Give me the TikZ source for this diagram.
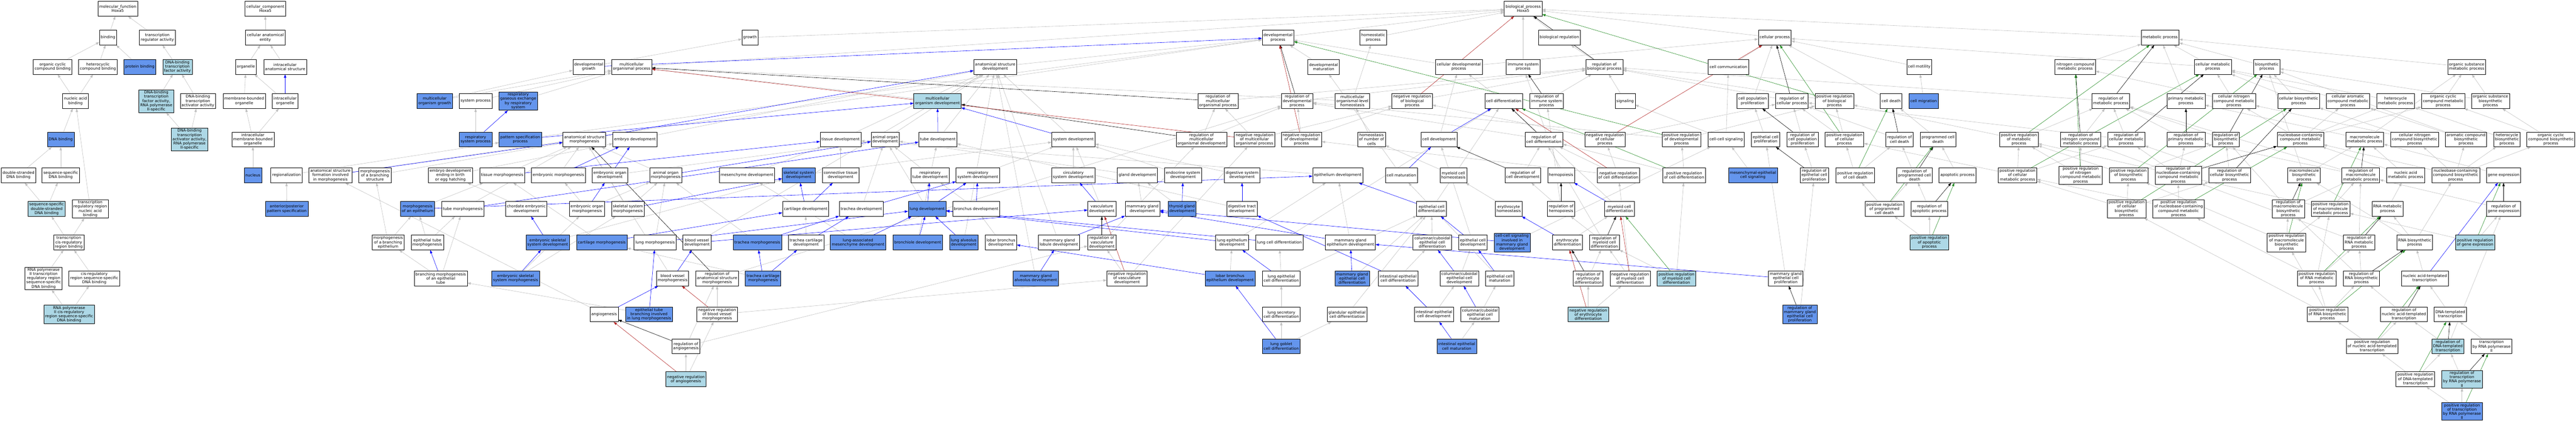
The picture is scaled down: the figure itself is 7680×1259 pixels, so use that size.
\documentclass[tikz,border=0pt]{standalone}
\usepackage{fontspec}
\setmainfont{DejaVu Sans}
\usepackage{tikz}
\usetikzlibrary{arrows.meta,backgrounds}
\definecolor{ancblue}{HTML}{ADD8E6}
\definecolor{hitblue}{HTML}{6495ED}
\definecolor{edgegray}{HTML}{C0C0C0}
\definecolor{negred}{HTML}{B22222}
\definecolor{posgreen}{HTML}{228B22}
\tikzset{>/.tip={Triangle[length=10pt,width=7pt]},
  gobox/.style={draw, line width=0.9pt, fill=white, align=center, inner xsep=4pt, inner ysep=3pt,
    minimum height=44pt, font=\fontsize{11.5}{12.5}\selectfont},
  goanc/.style={gobox, fill=ancblue},
  gohit/.style={gobox, fill=hitblue},
  isa/.style={->, draw=edgegray, line width=0.9pt},
  partof/.style={->, draw=blue, line width=0.9pt},
  reg/.style={->, draw=black, line width=0.9pt},
  negreg/.style={->, draw=negred, line width=0.9pt},
  posreg/.style={->, draw=posgreen, line width=0.9pt}}

\begin{document}
\begin{tikzpicture}[x=1pt,y=1pt]
\useasboundingbox (0,0) rectangle (7680,1259);
\begin{pgfonlayer}{background}
\fill[white] (0,0) rectangle (7680,1259);
\end{pgfonlayer}
\node[gobox] (mf) at (351,1233) {molecular\_function\\Hoxa5};
\node[gobox] (binding) at (322,1147) {binding};
\node[gobox] (tra) at (469,1147) {transcription\\regulator activity};
\node[gobox] (occb) at (157,1060) {organic cyclic\\compound binding};
\node[gobox] (hcb) at (292,1060) {heterocyclic\\compound binding};
\node[gohit] (protb) at (417,1060) {protein binding};
\node[goanc] (dbtfa) at (529,1060) {DNA-binding\\transcription\\factor activity};
\node[gobox] (nab) at (225,958) {nucleic acid\\binding};
\node[goanc] (dbtfa2) at (466,958) {DNA-binding\\transcription\\factor activity,\\RNA polymerase\\II-specific};
\node[gobox] (dbtaa) at (590,958) {DNA-binding\\transcription\\activator activity};
\node[gohit] (dnab) at (181,844) {DNA binding};
\node[goanc] (dbtaa2) at (565,844) {DNA-binding\\transcription\\activator activity,\\RNA polymerase\\II-specific};
\node[gobox] (dsdb) at (55,737) {double-stranded\\DNA binding};
\node[gobox] (ssdb) at (181,737) {sequence-specific\\DNA binding};
\node[goanc] (ssdsdb) at (139,637) {sequence-specific\\double-stranded\\DNA binding};
\node[gobox] (trrnab) at (269,637) {transcription\\regulatory region\\nucleic acid\\binding};
\node[gobox] (tcrrb) at (205,537) {transcription\\cis-regulatory\\region binding};
\node[gobox] (rp2trr) at (130,430) {RNA polymerase\\II transcription\\regulatory region\\sequence-specific\\DNA binding};
\node[gobox] (crrssdb) at (281,430) {cis-regulatory\\region sequence-specific\\DNA binding};
\node[goanc] (rp2crr) at (206,323) {RNA polymerase\\II cis-regulatory\\region sequence-specific\\DNA binding};
\node[gobox] (cc) at (791,1233) {cellular\_component\\Hoxa5};
\node[gobox] (cae) at (791,1147) {cellular anatomical\\entity};
\node[gobox] (organelle) at (733,1060) {organelle};
\node[gobox] (ias) at (850,1060) {intracellular\\anatomical structure};
\node[gobox] (mbo) at (728,958) {membrane-bounded\\organelle};
\node[gobox] (io) at (850,958) {intracellular\\organelle};
\node[gobox] (imbo) at (754,844) {intracellular\\membrane-bounded\\organelle};
\node[gohit] (nucleus) at (754,737) {nucleus};
\node[gobox] (regionalization) at (854,737) {regionalization};
\node[gohit] (apps) at (855,637) {anterior/posterior\\pattern specification};
\node[gobox] (asfim) at (985,737) {anatomical structure\\formation involved\\in morphogenesis};
\node[gobox] (mobs) at (1118,737) {morphogenesis\\of a branching\\structure};
\node[gobox] (ebeh) at (1343,737) {embryo development\\ending in birth\\or egg hatching};
\node[gohit] (mog) at (1296,958) {multicellular\\organism growth};
\node[gohit] (moe) at (1245,637) {morphogenesis\\of an epithelium};
\node[gobox] (mobe) at (1157,537) {morphogenesis\\of a branching\\epithelium};
\node[gobox] (etm) at (1274,537) {epithelial tube\\morphogenesis};
\node[gobox] (branching) at (1314,430) {branching morphogenesis\\of an epithelial\\tube};
\node[gobox] (devgrowth) at (1755,1060) {developmental\\growth};
\node[gobox] (mop) at (1883,1060) {multicellular\\organismal process};
\node[gobox] (sysproc) at (1418,958) {system process};
\node[gohit] (rgers) at (1545,958) {respiratory\\gaseous exchange\\by respiratory\\system};
\node[gohit] (rsp) at (1418,844) {respiratory\\system process};
\node[gohit] (psp) at (1551,844) {pattern specification\\process};
\node[gobox] (asm) at (1742,844) {anatomical structure\\morphogenesis};
\node[gobox] (embdev) at (1893,844) {embryo development};
\node[gobox] (tissuemorph) at (1497,737) {tissue morphogenesis};
\node[gobox] (embmorph) at (1665,737) {embryonic morphogenesis};
\node[gobox] (eod) at (1818,737) {embryonic organ\\development};
\node[gobox] (tubemorph) at (1380,637) {tube morphogenesis};
\node[gobox] (ced) at (1569,637) {chordate embryonic\\development};
\node[gobox] (eom) at (1750,637) {embryonic organ\\morphogenesis};
\node[gobox] (ssm) at (1872,637) {skeletal system\\morphogenesis};
\node[gohit] (esd) at (1633,537) {embryonic skeletal\\system development};
\node[gohit] (cartmorph) at (1794,537) {cartilage morphogenesis};
\node[gobox] (lungmorph) at (1953,537) {lung morphogenesis};
\node[gohit] (esm) at (1537,430) {embryonic skeletal\\system morphogenesis};
\node[gobox] (angiogenesis) at (1801,323) {angiogenesis};
\node[gohit] (etbilm) at (1935,323) {epithelial tube\\branching involved\\in lung morphogenesis};
\node[gobox] (growth) at (2236,1147) {growth};
\node[gobox] (tissuedev) at (2506,844) {tissue development};
\node[gobox] (aom) at (1985,737) {animal organ\\morphogenesis};
\node[gobox] (mesdev) at (2227,737) {mesenchyme development};
\node[gohit] (skeldev) at (2381,737) {skeletal system\\development};
\node[gobox] (ctd) at (2506,737) {connective tissue\\development};
\node[gobox] (cartdev) at (2402,637) {cartilage development};
\node[gobox] (tracheadev) at (2568,637) {trachea development};
\node[gobox] (bvd) at (2078,537) {blood vessel\\development};
\node[gohit] (trachmorph) at (2258,537) {trachea morphogenesis};
\node[gobox] (tcd) at (2403,537) {trachea cartilage\\development};
\node[gohit] (lamd) at (2558,537) {lung-associated\\mesenchyme development};
\node[gobox] (bvm) at (2005,430) {blood vessel\\morphogenesis};
\node[gobox] (rasm) at (2138,430) {regulation of\\anatomical structure\\morphogenesis};
\node[gohit] (tcm) at (2275,430) {trachea cartilage\\morphogenesis};
\node[gobox] (nrbvm) at (2138,323) {negative regulation\\of blood vessel\\morphogenesis};
\node[gobox] (rang) at (2045,228) {regulation of\\angiogenesis};
\node[goanc] (nrang) at (2045,130) {negative regulation\\of angiogenesis};
\node[gobox] (asd) at (2967,1060) {anatomical structure\\development};
\node[goanc] (mod) at (2795,958) {multicellular\\organism development};
\node[gobox] (aod) at (2639,844) {animal organ\\development};
\node[gobox] (tubedev) at (2796,844) {tube development};
\node[gobox] (sysdev) at (3200,844) {system development};
\node[gobox] (rtd) at (2773,737) {respiratory\\tube development};
\node[gobox] (rsd) at (2915,737) {respiratory\\system development};
\node[gobox] (circ) at (3200,737) {circulatory\\system development};
\node[gohit] (lungdev) at (2764,637) {lung development};
\node[gobox] (bronchdev) at (2910,637) {bronchus development};
\node[gohit] (bronchiole) at (2736,537) {bronchiole development};
\node[gohit] (lad) at (2873,537) {lung alveolus\\development};
\node[gobox] (lbd) at (2984,537) {lobar bronchus\\development};
\node[gobox] (mgld) at (3157,537) {mammary gland\\lobule development};
\node[gohit] (mgad) at (3088,430) {mammary gland\\alveolus development};
\node[gobox] (devproc) at (3810,1147) {developmental\\process};
\node[gobox] (rmop) at (3631,958) {regulation of\\multicellular\\organismal process};
\node[gobox] (rdp) at (3867,958) {regulation of\\developmental\\process};
\node[gobox] (rmod) at (3582,844) {regulation of\\multicellular\\organismal development};
\node[gobox] (nrmop) at (3740,844) {negative regulation\\of multicellular\\organismal process};
\node[gobox] (nrdp) at (3880,844) {negative regulation\\of developmental\\process};
\node[gobox] (glanddev) at (3391,737) {gland development};
\node[gobox] (endodev) at (3527,737) {endocrine system\\development};
\node[gobox] (digsysdev) at (3703,737) {digestive system\\development};
\node[gobox] (vascdev) at (3285,637) {vasculature\\development};
\node[gobox] (mgd) at (3406,637) {mammary gland\\development};
\node[gohit] (tgd) at (3524,637) {thyroid gland\\development};
\node[gobox] (dtd) at (3703,637) {digestive tract\\development};
\node[gobox] (rvd) at (3285,537) {regulation of\\vasculature\\development};
\node[gobox] (led) at (3673,537) {lung epithelium\\development};
\node[gobox] (lcd) at (3814,537) {lung cell differentiation};
\node[gobox] (nrvd) at (3360,430) {negative regulation\\of vasculature\\development};
\node[gohit] (lbed) at (3667,430) {lobar bronchus\\epithelium development};
\node[gobox] (lecd) at (3820,430) {lung epithelial\\cell differentiation};
\node[gobox] (lscd) at (3820,323) {lung secretory\\cell differentiation};
\node[gohit] (lgcd) at (3820,228) {lung goblet\\cell differentiation};
\node[gobox] (homeoproc) at (4094,1147) {homeostatic\\process};
\node[gobox] (devmat) at (3946,1060) {developmental\\maturation};
\node[gobox] (cdp) at (4349,1060) {cellular developmental\\process};
\node[gobox] (molh) at (4032,958) {multicellular\\organismal-level\\homeostasis};
\node[gobox] (nrbp) at (4210,958) {negative regulation\\of biological\\process};
\node[gobox] (celldiff) at (4483,958) {cell differentiation};
\node[gobox] (homnc) at (4089,844) {homeostasis\\of number of\\cells};
\node[gobox] (celldev) at (4290,844) {cell development};
\node[gobox] (epidev) at (3988,737) {epithelium development};
\node[gobox] (cellmat) at (4178,737) {cell maturation};
\node[gobox] (mch) at (4333,737) {myeloid cell\\homeostasis};
\node[gobox] (ecd) at (4268,637) {epithelial cell\\differentiation};
\node[gobox] (eryh) at (4498,637) {erythrocyte\\homeostasis};
\node[gobox] (mged) at (4026,537) {mammary gland\\epithelium development};
\node[gobox] (cccd) at (4270,537) {columnar/cuboidal\\epithelial cell\\differentiation};
\node[gobox] (ecdev) at (4391,537) {epithelial cell\\development};
\node[gohit] (ccsimgd) at (4508,537) {cell-cell signaling\\involved in\\mammary gland\\development};
\node[gohit] (mgecd) at (4031,430) {mammary gland\\epithelial cell\\differentiation};
\node[gobox] (iecd) at (4168,430) {intestinal epithelial\\cell differentiation};
\node[gobox] (ccecdev) at (4351,430) {columnar/cuboidal\\epithelial cell\\development};
\node[gobox] (ecm) at (4471,430) {epithelial cell\\maturation};
\node[gobox] (gecd) at (4016,323) {glandular epithelial\\cell differentiation};
\node[gobox] (iecdev) at (4275,323) {intestinal epithelial\\cell development};
\node[gobox] (ccecm) at (4412,323) {columnar/cuboidal\\epithelial cell\\maturation};
\node[gohit] (iecm) at (4343,228) {intestinal epithelial\\cell maturation};
\node[gobox] (bp) at (4541,1233) {biological\_process\\Hoxa5};
\node[gobox] (bioreg) at (4649,1147) {biological regulation};
\node[gobox] (isp) at (4541,1060) {immune system\\process};
\node[gobox] (rbp) at (4783,1060) {regulation of\\biological process};
\node[gobox] (cellcomm) at (5153,1060) {cell communication};
\node[gobox] (risp) at (4611,958) {regulation of\\immune system\\process};
\node[gobox] (signaling) at (4845,958) {signaling};
\node[gobox] (rcd) at (4603,844) {regulation of\\cell differentiation};
\node[gobox] (nrcp) at (4785,844) {negative regulation\\of cellular\\process};
\node[gobox] (prdp) at (5013,844) {positive regulation\\of developmental\\process};
\node[gobox] (ccsig) at (5146,844) {cell-cell signaling};
\node[gobox] (rcdev) at (4540,737) {regulation of\\cell development};
\node[gobox] (hemopoiesis) at (4654,737) {hemopoiesis};
\node[gobox] (nrcd) at (4825,737) {negative regulation\\of cell differentiation};
\node[gobox] (prcd) at (5021,737) {positive regulation\\of cell differentiation};
\node[gobox] (rhemo) at (4654,637) {regulation of\\hemopoiesis};
\node[gobox] (mcd) at (4828,637) {myeloid cell\\differentiation};
\node[gobox] (erydiff) at (4673,537) {erythrocyte\\differentiation};
\node[gobox] (rmcd) at (4783,537) {regulation of\\myeloid cell\\differentiation};
\node[gobox] (redd) at (4735,430) {regulation of\\erythrocyte\\differentiation};
\node[gobox] (nrmcd) at (4860,430) {negative regulation\\of myeloid cell\\differentiation};
\node[goanc] (prmcd) at (4998,430) {positive regulation\\of myeloid cell\\differentiation};
\node[goanc] (nred) at (4735,323) {negative regulation\\of erythrocyte\\differentiation};
\node[gobox] (cellproc) at (5291,1147) {cellular process};
\node[gobox] (cellmot) at (5722,1060) {cell motility};
\node[gobox] (cpp) at (5225,958) {cell population\\proliferation};
\node[gobox] (rcp) at (5342,958) {regulation of\\cellular process};
\node[gobox] (prbp) at (5469,958) {positive regulation\\of biological\\process};
\node[gobox] (celldeath) at (5638,958) {cell death};
\node[gohit] (cellmig) at (5735,958) {cell migration};
\node[gobox] (ecp) at (5264,844) {epithelial cell\\proliferation};
\node[gobox] (rcpp) at (5374,844) {regulation of\\cell population\\proliferation};
\node[gobox] (prcp) at (5499,844) {positive regulation\\of cellular\\process};
\node[gobox] (rcdeath) at (5663,844) {regulation of\\cell death};
\node[gobox] (pcd) at (5778,844) {programmed cell\\death};
\node[gohit] (mecs) at (5226,737) {mesenchymal-epithelial\\cell signaling};
\node[gobox] (recp) at (5409,737) {regulation of\\epithelial cell\\proliferation};
\node[gobox] (prcdeath) at (5531,737) {positive regulation\\of cell death};
\node[gobox] (rpcd) at (5708,737) {regulation of\\programmed cell\\death};
\node[gobox] (aproc) at (5836,737) {apoptotic process};
\node[gobox] (prpcd) at (5618,637) {positive regulation\\of programmed\\cell death};
\node[gobox] (rap) at (5752,637) {regulation of\\apoptotic process};
\node[goanc] (prap) at (5752,537) {positive regulation\\of apoptotic\\process};
\node[gobox] (mgecp) at (5324,430) {mammary gland\\epithelial cell\\proliferation};
\node[gohit] (rmgecp) at (5366,323) {regulation of\\mammary gland\\epithelial cell\\proliferation};
\node[gobox] (metproc) at (6440,1147) {metabolic process};
\node[gobox] (ncmp) at (6187,1060) {nitrogen compound\\metabolic process};
\node[gobox] (rmp) at (6293,958) {regulation of\\metabolic process};
\node[gobox] (prmp) at (6019,844) {positive regulation\\of metabolic\\process};
\node[gobox] (rncmp) at (6203,844) {regulation of\\nitrogen compound\\metabolic process};
\node[gobox] (rcmp) at (6339,844) {regulation of\\cellular metabolic\\process};
\node[gobox] (prcmp) at (6015,737) {positive regulation\\of cellular\\metabolic process};
\node[gobox] (prncmp) at (6203,737) {positive regulation\\of nitrogen\\compound metabolic\\process};
\node[gobox] (prbsp) at (6346,737) {positive regulation\\of biosynthetic\\process};
\node[gobox] (prcbp) at (6340,637) {positive regulation\\of cellular\\biosynthetic\\process};
\node[gobox] (cmp) at (6597,1060) {cellular metabolic\\process};
\node[gobox] (bsp) at (6758,1060) {biosynthetic\\process};
\node[gobox] (pmp) at (6517,958) {primary metabolic\\process};
\node[gobox] (cncmp) at (6660,958) {cellular nitrogen\\compound metabolic\\process};
\node[gobox] (cbp) at (6853,958) {cellular biosynthetic\\process};
\node[gobox] (cacmp) at (7000,958) {cellular aromatic\\compound metabolic\\process};
\node[gobox] (rpmp) at (6517,844) {regulation of\\primary metabolic\\process};
\node[gobox] (rbsp) at (6636,844) {regulation of\\biosynthetic\\process};
\node[gobox] (nbcmp) at (6858,844) {nucleobase-containing\\compound metabolic\\process};
\node[gobox] (mmp) at (7050,844) {macromolecule\\metabolic process};
\node[gobox] (rnbcmp) at (6494,737) {regulation of\\nucleobase-containing\\compound metabolic\\process};
\node[gobox] (rcbp) at (6647,737) {regulation of\\cellular biosynthetic\\process};
\node[gobox] (mbp) at (6869,737) {macromolecule\\biosynthetic\\process};
\node[gobox] (rmmp) at (7038,737) {regulation of\\macromolecule\\metabolic process};
\node[gobox] (prnbcmp) at (6495,637) {positive regulation\\of nucleobase-containing\\compound metabolic\\process};
\node[gobox] (rmbp) at (6822,637) {regulation of\\macromolecule\\biosynthetic\\process};
\node[gobox] (prmmp) at (6948,637) {positive regulation\\of macromolecule\\metabolic process};
\node[gobox] (prmbp) at (6817,537) {positive regulation\\of macromolecule\\biosynthetic\\process};
\node[gobox] (rrmp) at (7033,537) {regulation of\\RNA metabolic\\process};
\node[gobox] (prrmp) at (6907,430) {positive regulation\\of RNA metabolic\\process};
\node[gobox] (rrbp) at (7040,430) {regulation of\\RNA biosynthetic\\process};
\node[gobox] (prrbp) at (6939,323) {positive regulation\\of RNA biosynthetic\\process};
\node[gobox] (prnatt) at (7072,228) {positive regulation\\of nucleic acid-templated\\transcription};
\node[gobox] (osmp) at (7354,1060) {organic substance\\metabolic process};
\node[gobox] (hmp) at (7142,958) {heterocycle\\metabolic process};
\node[gobox] (occmp) at (7284,958) {organic cyclic\\compound metabolic\\process};
\node[gobox] (osbp) at (7425,958) {organic substance\\biosynthetic\\process};
\node[gobox] (cncbp) at (7199,844) {cellular nitrogen\\compound biosynthetic\\process};
\node[gobox] (acbp) at (7352,844) {aromatic compound\\biosynthetic\\process};
\node[gobox] (hbp) at (7474,844) {heterocycle\\biosynthetic\\process};
\node[gobox] (occbp) at (7605,844) {organic cyclic\\compound biosynthetic\\process};
\node[gobox] (namp) at (7172,737) {nucleic acid\\metabolic process};
\node[gobox] (nbcbp) at (7321,737) {nucleobase-containing\\compound biosynthetic\\process};
\node[gobox] (geneexp) at (7464,737) {gene expression};
\node[gobox] (rnamp) at (7118,637) {RNA metabolic\\process};
\node[gobox] (rge) at (7464,637) {regulation of\\gene expression};
\node[gobox] (rnabp) at (7199,537) {RNA biosynthetic\\process};
\node[goanc] (prge) at (7379,537) {positive regulation\\of gene expression};
\node[gobox] (natt) at (7229,430) {nucleic acid-templated\\transcription};
\node[gobox] (rnatt) at (7167,323) {regulation of\\nucleic acid-templated\\transcription};
\node[gobox] (dtt) at (7305,323) {DNA-templated\\transcription};
\node[goanc] (rdtt) at (7298,228) {regulation of\\DNA-templated\\transcription};
\node[gobox] (trp2) at (7428,228) {transcription\\by RNA polymerase\\II};
\node[gobox] (prdtt) at (7201,130) {positive regulation\\of DNA-templated\\transcription};
\node[goanc] (rtrp2) at (7340,130) {regulation of\\transcription\\by RNA polymerase\\II};
\node[gohit] (prtrp2) at (7340,34) {positive regulation\\of transcription\\by RNA polymerase\\II};
\begin{pgfonlayer}{background}
\foreach \c/\p in {binding/mf, tra/mf, occb/binding, hcb/binding, protb/binding, dbtfa/tra, nab/occb, nab/hcb,
  dbtfa2/dbtfa, dbtaa/dbtfa, dnab/nab, dbtaa2/dbtfa2, dbtaa2/dbtaa, dsdb/dnab, ssdb/dnab, ssdsdb/dsdb,
  ssdsdb/ssdb, trrnab/nab, tcrrb/ssdsdb, tcrrb/trrnab, rp2trr/tcrrb, crrssdb/tcrrb, rp2crr/rp2trr, rp2crr/crrssdb,
  cae/cc, organelle/cae, ias/cae, mbo/organelle, io/organelle, imbo/mbo, imbo/io, nucleus/imbo,
  bioreg/bp, isp/bp, cellproc/bp, devproc/bp, homeoproc/bp, growth/bp, mop/bp, metproc/bp, rbp/bioreg,
  signaling/rbp, nrbp/rbp, prbp/rbp, cellcomm/cellproc, cpp/cellproc, celldeath/cellproc, cellmot/cellproc,
  cdp/cellproc, cmp/cellproc, rcp/rbp, nrcp/rcp, nrcp/nrbp, prcp/rcp, prcp/prbp,
  cellmig/cellmot, ecp/cpp, rcpp/rcp, recp/rcpp, mgecp/ecp, rmgecp/recp, ccsig/cellcomm, ccsig/signaling,
  mecs/ccsig, ccsimgd/ccsig, pcd/celldeath, rcdeath/rcp, prcdeath/rcdeath, prcdeath/prcp, rpcd/rcdeath,
  prpcd/prcdeath, prpcd/rpcd, aproc/pcd, rap/rpcd, prap/rap, prap/prpcd,
  asd/devproc, mod/asd, mod/mop, tubedev/asd, sysdev/asd, aod/asd, tissuedev/asd, embdev/asd, devgrowth/growth,
  mog/devgrowth, mog/mop, sysproc/mop, rsp/sysproc, rgers/mop, regionalization/psp, apps/regionalization,
  psp/devproc, embmorph/asm, tissuemorph/asm, ebeh/embdev, eod/aod, ced/ebeh, eom/embmorph, eom/aom,
  ssm/asm, ssm/aom, tubemorph/asm, moe/tissuemorph, mobs/asm, mobe/moe, mobe/mobs, etm/moe, etm/tubemorph,
  branching/mobe, branching/tubemorph, asfim/devproc, angiogenesis/asfim, etbilm/branching, bvd/asd, bvm/asm,
  rasm/rdp, nrbvm/rasm, nrbvm/nrvd, rang/rasm, rang/rvd, nrang/rang, nrang/nrbvm, esd/skeldev, esm/eom,
  esm/ssm, aom/asm, ctd/tissuedev, skeldev/sysdev, tcd/cartdev, tcm/cartmorph, trachmorph/aom,
  tracheadev/aod, lamd/mesdev, lungmorph/aom, lungdev/aod, rtd/tubedev, rtd/aod, rsd/sysdev, bronchdev/rtd,
  bronchiole/rtd, lad/asd, lbd/bronchdev, mgld/asd, mgad/asd, cartmorph/tissuemorph, mesdev/tissuedev,
  circ/sysdev, vascdev/sysdev, rvd/rmod, nrvd/rvd, nrvd/nrmop, glanddev/aod, mgd/glanddev, tgd/glanddev,
  endodev/sysdev, digsysdev/sysdev, dtd/tubedev, epidev/tissuedev, led/epidev, lcd/celldiff, lbed/led,
  lecd/lcd, lecd/ecd, lscd/lecd, lgcd/lscd, lgcd/gecd, mged/epidev, mgecd/ecd, gecd/ecd, iecd/cccd,
  iecdev/ccecdev, iecm/ccecm, ccecm/ecm, ccecdev/ecdev, ecm/cellmat, cccd/ecd, ecdev/celldev, ecd/celldiff,
  cellmat/devmat, celldev/cdp, celldiff/cdp, cdp/devproc, devmat/devproc, molh/homeoproc, molh/mop,
  homnc/molh, mch/homnc, eryh/mch, erydiff/mcd, mcd/celldiff, hemopoiesis/isp, rhemo/rcdev, rhemo/risp,
  rmcd/rhemo, rmcd/rcd, redd/rmcd, nrmcd/rmcd, nrmcd/nrcd, prmcd/rmcd, prmcd/prcd, nred/redd, nred/nrmcd,
  rcdev/rcd, rcd/rdp, nrcd/rcd, nrcd/nrcp, nrcd/nrdp, prcd/rcd, prcd/prdp, prdp/rdp, prdp/prbp, nrdp/rdp,
  nrdp/nrbp, rdp/rbp, rmop/rbp, rmod/rmop, rmod/rdp, nrmop/rmop, nrmop/nrbp, risp/rbp,
  ncmp/metproc, cmp/metproc, pmp/metproc, osmp/metproc, bsp/metproc, rmp/rbp, prmp/rmp, prmp/prbp,
  rncmp/rmp, rcmp/rmp, rcmp/rcp, prcmp/prmp, prcmp/rcmp, prcmp/prcp, prncmp/rncmp, prncmp/prmp,
  prbsp/rbsp, prbsp/prmp, prcbp/prbsp, prcbp/prcmp, prcbp/rcbp, cbp/bsp, cbp/cmp, cncmp/cmp, cncmp/ncmp,
  rpmp/rmp, rbsp/rmp, nbcmp/cacmp, nbcmp/hmp, nbcmp/occmp, nbcmp/cncmp, mmp/pmp, mmp/osmp,
  rnbcmp/rpmp, rnbcmp/rncmp, rnbcmp/rcmp, rcbp/rbsp, rcbp/rcmp, mbp/mmp, mbp/bsp, rmmp/rmp, rmmp/rpmp,
  prnbcmp/rnbcmp, prnbcmp/prcmp, rmbp/rmmp, rmbp/rbsp, prmmp/rmmp, prmmp/prmp, prmbp/rmbp, prmbp/prmmp,
  prmbp/prbsp, rrmp/rmmp, rrmp/rnbcmp, rrbp/rrmp, rrbp/rmbp, prrmp/rrmp, prrmp/prmmp, prrmp/prnbcmp,
  prrbp/prrmp, prrbp/rrbp, prrbp/prmbp, prrbp/prcbp, prnatt/prrbp, prnatt/rnatt, rnatt/rrbp, natt/rnabp,
  dtt/natt, rnabp/rnamp, rnabp/nbcbp, rnabp/mbp, rnamp/namp, namp/nbcmp, namp/mmp, nbcbp/cncbp,
  nbcbp/acbp, nbcbp/hbp, nbcbp/occbp, nbcbp/nbcmp, geneexp/mmp, rge/rmmp, prge/rge, prge/prmmp,
  rdtt/rnatt, rdtt/rge, trp2/dtt, prdtt/rdtt, prdtt/prnatt, rtrp2/rdtt, prtrp2/rtrp2, prtrp2/prdtt,
  cncbp/cbp, cncbp/cncmp, acbp/bsp, acbp/cacmp, hbp/hmp, occbp/occmp, occbp/osbp, osbp/osmp, osbp/bsp,
  occmp/osmp, cacmp/cmp, hmp/cmp}
  \draw[isa] (\c) -- (\p);
\foreach \c/\p in {io/ias, rsp/rgers, asm/asd, asfim/asm, embmorph/embdev, tissuemorph/tissuedev, eod/embdev,
  eom/eod, ssm/skeldev, tubemorph/tubedev, moe/epidev, branching/etm, angiogenesis/bvm, etbilm/lungmorph,
  bvd/vascdev, bvm/bvd, cartdev/ctd, cartdev/skeldev, cartmorph/cartdev, tcd/tracheadev, tcm/tcd,
  tcm/trachmorph, trachmorph/tracheadev, tracheadev/rsd, lamd/lungdev, lungmorph/lungdev, lungdev/rtd,
  lungdev/rsd, bronchdev/rsd, bronchiole/lungdev, lad/lungdev, lbed/lbd, mgld/mgd, mgad/mgld, led/lungdev,
  lcd/lungdev, tubedev/mod, sysdev/mod, aom/aod, esd/ced, esm/esd, vascdev/circ, tgd/endodev,
  dtd/digsysdev, iecd/dtd, lecd/led, lgcd/lbed, mged/mgd, ccsimgd/mgd, mgecd/mged, iecdev/iecd,
  iecm/iecdev, ccecm/ccecdev, ccecdev/cccd, ecm/ecdev, ecdev/ecd, ecd/epidev, cellmat/celldev,
  celldev/celldiff, erydiff/eryh, mcd/hemopoiesis, natt/geneexp, devgrowth/devproc, psp/mod, mgecp/mged}
  \draw[partof] (\c) -- (\p);
\foreach \c/\p in {rbp/bp, rcp/cellproc, rcpp/cpp, recp/ecp, rmgecp/mgecp, rcdeath/celldeath, rpcd/pcd,
  rap/aproc, rasm/asm, rang/angiogenesis, rvd/vascdev, rdp/devproc, rmop/mop, rmod/mod, risp/isp,
  rhemo/hemopoiesis, rmcd/mcd, redd/erydiff, rcdev/celldev, rcd/celldiff, rmp/metproc, rncmp/ncmp,
  rcmp/cmp, rpmp/pmp, rbsp/bsp, rnbcmp/nbcmp, rcbp/cbp, rmmp/mmp, rmbp/mbp, rrmp/rnamp, rrbp/rnabp,
  rnatt/natt, rge/geneexp, rdtt/dtt, rtrp2/trp2}
  \draw[reg] (\c) -- (\p);
\foreach \c/\p in {nrbp/bp, nrcp/cellproc, nrdp/devproc, nrmop/mop, nrbvm/bvm, nrang/angiogenesis,
  nrvd/vascdev, nrcd/celldiff, nrmcd/mcd, nred/erydiff}
  \draw[negreg] (\c) -- (\p);
\foreach \c/\p in {prbp/bp, prcp/cellproc, prdp/devproc, prcdeath/celldeath, prpcd/pcd, prap/aproc,
  prcd/celldiff, prmcd/mcd, prmp/metproc, prcmp/cmp, prncmp/ncmp, prbsp/bsp, prcbp/cbp, prnbcmp/nbcmp,
  prmmp/mmp, prmbp/mbp, prrmp/rnamp, prrbp/rnabp, prnatt/natt, prge/geneexp, prdtt/dtt, prtrp2/trp2}
  \draw[posreg] (\c) -- (\p);
\end{pgfonlayer}
\end{tikzpicture}
\end{document}
